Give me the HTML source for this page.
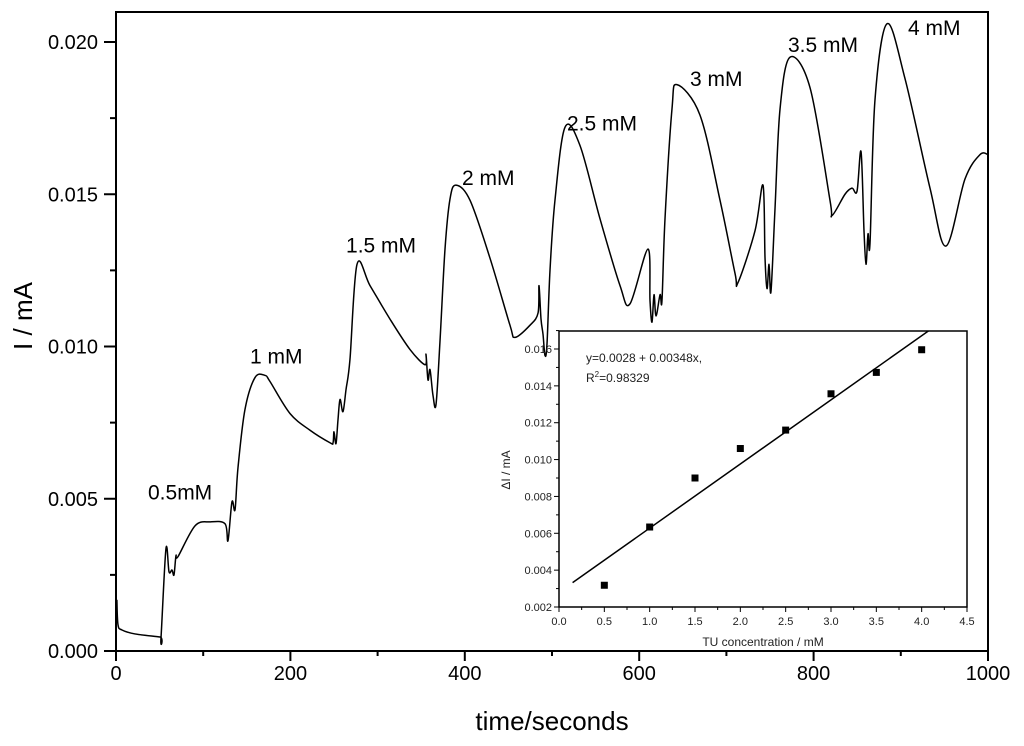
<!DOCTYPE html>
<html><head><meta charset="utf-8"><style>
body{margin:0;background:#fff}
svg{display:block;font-family:"Liberation Sans",Arial,sans-serif}
</style></head><body>
<svg id="c" width="1024" height="746"></svg>
<script>
const timeData=[1,2.3,6.9,21.8,50.5,51.6,57.3,60.8,64.2,66.5,68.8,71.1,90.6,107.8,125,128.4,133,136.5,139.9,147.9,159.4,170.9,176.6,199.5,222.5,245.4,248.9,250,252.3,254.6,256.9,260.3,263.8,268.3,276.4,291.3,314.2,337.2,354.4,355.5,357.8,360.1,363.5,367,371.6,377.3,383,389.9,406,428.9,451.8,457.6,474.8,484,485.1,487.4,489.7,492,494.3,497.7,503.4,514.9,532.1,555,578,589.4,610,612.4,614.7,617,619.3,623.9,626.1,629.6,637.6,643.3,669.7,692.7,709.9,713.3,732.8,742,744.3,746.6,748.9,751.1,755.7,761.5,772.9,795.9,818.8,821.1,836,844,849.8,854.4,857.8,860.1,862.4,864.7,870.4,884.2,904.8,933.5,951.8,973.6,990.8,1000];
const currentData=[0.00168,0.00086,0.00069,0.00056,0.00046,0.00043,0.00336,0.0026,0.00266,0.0025,0.00313,0.0031,0.00411,0.00424,0.00418,0.00362,0.0049,0.00464,0.00602,0.00793,0.00898,0.00905,0.00885,0.0078,0.00725,0.00684,0.00684,0.0072,0.00681,0.0076,0.00826,0.00786,0.00859,0.00957,0.0127,0.0120,0.0109,0.0099,0.0094,0.00974,0.0089,0.00924,0.0084,0.0081,0.0102,0.0132,0.01484,0.0153,0.0148,0.0129,0.0107,0.0103,0.0107,0.0111,0.0120,0.0109,0.0104,0.0097,0.0101,0.0125,0.0148,0.0172,0.0166,0.0142,0.0120,0.0114,0.0132,0.0115,0.0108,0.0117,0.0110,0.0117,0.0115,0.0142,0.0178,0.0186,0.0176,0.0148,0.0124,0.0121,0.0138,0.0153,0.0129,0.0119,0.0127,0.0118,0.0145,0.0178,0.0195,0.0185,0.0148,0.0143,0.0150,0.0152,0.0151,0.0164,0.0138,0.0127,0.0137,0.0134,0.0181,0.0206,0.0188,0.0152,0.0133,0.0155,0.0163,0.0163];
const xTicks=[0,200,400,600,800,1000];
const yTicks=[0.000,0.005,0.010,0.015,0.020];
const peakLabels=["0.5mM","1 mM","1.5 mM","2 mM","2.5 mM","3 mM","3.5 mM","4 mM"];
const peakLabelT=[36.7,153.7,263.8,396.8,517.2,658.3,770.6,908.3];
const peakLabelI=[0.00497,0.00944,0.01309,0.0153,0.0171,0.01855,0.01967,0.02023];
const concData=[0.5,1,1.5,2,2.5,3,3.5,4];
const deltaData=[0.00318,0.00634,0.0090,0.0106,0.0116,0.01357,0.01473,0.01596];
const fitIntercept=0.0028, fitSlope=0.00348;
const insetXTicks=[0.0,0.5,1.0,1.5,2.0,2.5,3.0,3.5,4.0,4.5];
const insetYTicks=[0.002,0.004,0.006,0.008,0.010,0.012,0.014,0.016];

const svg=document.getElementById('c');
const NS='http://www.w3.org/2000/svg';
function mk(tag,attrs,parent){const e=document.createElementNS(NS,tag);for(const k in attrs)e.setAttribute(k,attrs[k]);(parent||svg).appendChild(e);return e;}
const L=116,R=988,T=12,B=651;
const xs=t=>L+(t-0)/1000*(R-L);
const ys=v=>B-v/0.020*(B-42);
let e=mk('rect',{x:L,y:T,width:R-L,height:B-T,fill:'none',stroke:'#000','stroke-width':2});

for(let t=0;t<=1000;t+=100){const big=t%200===0;e=mk('line',{x1:xs(t),x2:xs(t),y1:B,y2:B+(big?10:5),stroke:'#000','stroke-width':2});}
for(let v=0;v<=0.0201;v+=0.0025){const big=Math.round(v*10000)%50===0;e=mk('line',{x1:L,x2:L-(big?12:6),y1:ys(v),y2:ys(v),stroke:'#000','stroke-width':2});}
xTicks.forEach(t=>{e=mk('text',{x:xs(t),y:B+29,'font-size':20,'text-anchor':'middle'});e.textContent=t;});
yTicks.forEach(v=>{e=mk('text',{x:98,y:ys(v)+7,'font-size':20,'text-anchor':'end'});e.textContent=v.toFixed(3);});
e=mk('text',{x:552,y:730,'font-size':26,'text-anchor':'middle'});e.textContent='time/seconds';
e=mk('text',{x:0,y:0,'font-size':26,'text-anchor':'middle',transform:'translate(32,316) rotate(-90)'});e.textContent='I / mA';
// smooth path (Catmull-Rom)
const P=timeData.map((t,i)=>[xs(t),ys(currentData[i])]);
let d='M'+P[0][0]+','+P[0][1];
for(let i=0;i<P.length-1;i++){
  const p0=P[Math.max(0,i-1)],p1=P[i],p2=P[i+1],p3=P[Math.min(P.length-1,i+2)];
  const k=1/6;
  d+=' C'+(p1[0]+(p2[0]-p0[0])*k)+','+(p1[1]+(p2[1]-p0[1])*k)+' '+(p2[0]-(p3[0]-p1[0])*k)+','+(p2[1]-(p3[1]-p1[1])*k)+' '+p2[0]+','+p2[1];
}
e=mk('path',{d:d,fill:'none',stroke:'#000','stroke-width':1.5,'stroke-linejoin':'round'});

peakLabels.forEach((s,i)=>{e=mk('text',{x:xs(peakLabelT[i]),y:ys(peakLabelI[i]),'font-size':21});e.textContent=s;});
// inset
const iL=559,iR=967,iT=331,iB=607;
const ix=c=>iL+c/4.5*(iR-iL);
const iy=v=>iB-(v-0.002)/0.014*(iB-349);
e=mk('rect',{x:iL,y:iT,width:iR-iL,height:iB-iT,fill:'none',stroke:'#000','stroke-width':1.5});

for(let k=0;k<=18;k++){const c=k*0.25;e=mk('line',{x1:ix(c),x2:ix(c),y1:iB,y2:iB+(k%2?3:5),stroke:'#000','stroke-width':1});}
for(let k=0;k<=15;k++){const v=0.002+k*0.001;e=mk('line',{x1:iL,x2:iL-(k%2?3:5),y1:iy(v),y2:iy(v),stroke:'#000','stroke-width':1});}
insetXTicks.forEach(c=>{e=mk('text',{x:ix(c),y:iB+18,'font-size':11,'text-anchor':'middle',fill:'#222'});e.textContent=c.toFixed(1);});
insetYTicks.forEach(v=>{e=mk('text',{x:iL-7,y:iy(v)+4,'font-size':11,'text-anchor':'end',fill:'#222'});e.textContent=v.toFixed(3);});
e=mk('text',{x:763,y:646,'font-size':12,'text-anchor':'middle',fill:'#222'});e.textContent='TU concentration / mM';
e=mk('text',{x:0,y:0,'font-size':12,'text-anchor':'middle',fill:'#222',transform:'translate(510,470) rotate(-90)'});e.textContent='ΔI / mA';
const clip=mk('clipPath',{id:'ic'});mk('rect',{x:iL,y:iT,width:iR-iL,height:iB-iT},clip);
const f0=0.15,f1=4.15;
e=mk('line',{x1:ix(f0),y1:iy(fitIntercept+fitSlope*f0),x2:ix(f1),y2:iy(fitIntercept+fitSlope*f1),stroke:'#000','stroke-width':1.5,'clip-path':'url(#ic)'});

concData.forEach((c,i)=>{e=mk('rect',{x:ix(c)-3.5,y:iy(deltaData[i])-3.5,width:7,height:7,fill:'#000'});});
e=mk('text',{x:586,y:362,'font-size':12,fill:'#222'});e.textContent='y=0.0028 + 0.00348x,';
e=mk('text',{x:586,y:382,'font-size':12,fill:'#222'});e.innerHTML='R<tspan font-size="8" dy="-5">2</tspan><tspan dy="5">=0.98329</tspan>';
</script>
</body></html>
